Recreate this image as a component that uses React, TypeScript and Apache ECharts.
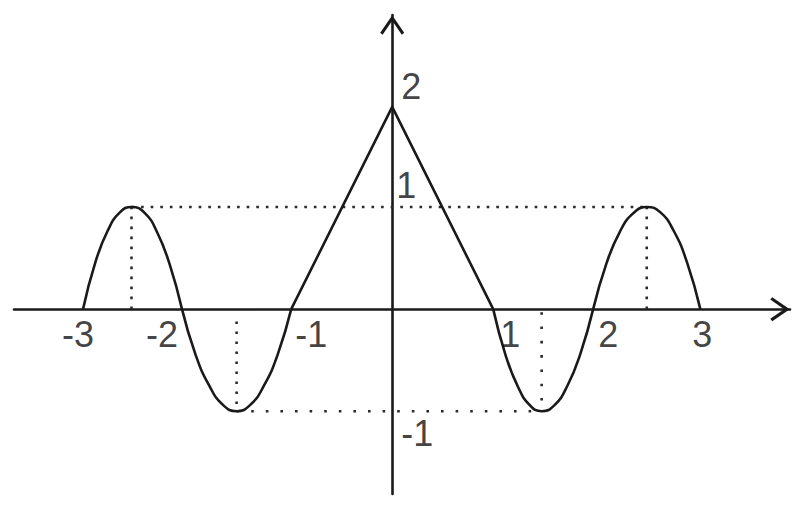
import React, { useEffect, useRef } from "react";
import * as echarts from "echarts";

// Curve pieces (x in axis units, y in axis units)
const xHumpA = [-3, -2.88, -2.76, -2.64, -2.53, -2.4, -2.28, -2.16, -2.04];
const yHumpA = [0, 0.46, 0.77, 0.95, 1, 0.94, 0.75, 0.44, 0];
const xHumpB = [-2.04, -1.91, -1.775, -1.64, -1.51, -1.38, -1.245, -1.11, -0.98];
const yHumpB = [0, -0.44, -0.75, -0.94, -1, -0.94, -0.75, -0.44, 0];
const xPeak = [-0.98, 0, 0.98];
const yPeak = [0, 1.98, 0];
const xHumpC = [0.98, 1.1, 1.22, 1.335, 1.45, 1.575, 1.7, 1.825, 1.95];
const yHumpC = [0, -0.45, -0.76, -0.94, -1, -0.94, -0.75, -0.44, 0];
const xHumpD = [1.95, 2.08, 2.21, 2.34, 2.47, 2.6, 2.73, 2.86, 2.99];
const yHumpD = [0, 0.45, 0.76, 0.94, 1, 0.95, 0.77, 0.46, 0];

// Dotted guide lines
const guideTopX = [-2.53, 2.47];
const guideTopY = [1, 1];
const guideBottomX = [-1.51, 1.45];
const guideBottomY = [-1, -1];
const dropAX = [-2.53, -2.53];
const dropAY = [0, 1];
const dropBX = [-1.51, -1.51];
const dropBY = [-0.12, -1];
const dropCX = [1.45, 1.45];
const dropCY = [-0.03, -1];
const dropDX = [2.47, 2.47];
const dropDY = [0, 1];

// Tick labels
const xTicks = [-3, -2, -1, 1, 2, 3];
const yTicks = [-1, 1, 2];

// Axis extents
const xMin = -3.67;
const xMax = 3.86;
const yMin = -1.81;
const yMax = 2.88;

// label nudges (px) — style only
const xLabelShift: Record<string, [number, number]> = {
  "-3": [-5, 25], "-2": [-24, 25], "-1": [22, 25], "1": [15, 25], "2": [10, 25], "3": [1, 25],
};
const yLabelShift: Record<string, [number, number]> = { "2": [19, -18], "1": [14, -22], "-1": [25, 22] };

const pairs = (xs: number[], ys: number[]) => xs.map((x, i) => [x, ys[i]]);

const FONT = "'Liberation Sans', Arial, sans-serif";
const INK = "#1a1a1a";
const ARROW = "path://M12,0 L24,17.5 L21.6,19.5 L12,5.6 L2.4,19.5 L0,17.5 Z";

export default function App() {
  const ref = useRef<HTMLDivElement>(null);

  useEffect(() => {
    if (!ref.current) return;
    const chart = echarts.init(ref.current, undefined, { renderer: "svg" });

    const dotted = (xs: number[], ys: number[], gap: number) => ({
      type: "line",
      data: pairs(xs, ys),
      symbol: "none",
      silent: true,
      lineStyle: { color: "#2a2a2a", width: 2.6, type: [2.6, gap], cap: "butt" },
      z: 1,
    });

    const curve = (xs: number[], ys: number[], smooth: boolean | number) => ({
      type: "line",
      data: pairs(xs, ys),
      symbol: "none",
      smooth,
      silent: true,
      lineStyle: { color: INK, width: 2.6, join: "round" },
      z: 3,
    });

    const labelStyle = {
      show: true,
      position: "inside",
      fontSize: 36,
      fontFamily: FONT,
      color: "#111",
      textBorderWidth: 0,
    };

    const xLabelData = xTicks.map((v) => ({
      value: [v, 0],
      name: String(v),
      label: { offset: xLabelShift[String(v)] },
    }));
    const yLabelData = yTicks.map((v) => ({
      value: [0, v],
      name: String(v),
      label: { offset: yLabelShift[String(v)] },
    }));

    const axisCommon = {
      type: "value",
      axisTick: { show: false },
      splitLine: { show: false },
      axisLabel: { show: false },
    };
    const axisLine = {
      onZero: true,
      symbol: ["none", ARROW],
      symbolSize: [24, 20],
      symbolOffset: [0, -10],
      lineStyle: { color: INK, width: 2.6 },
    };

    chart.setOption({
      animation: false,
      backgroundColor: "#ffffff",
      grid: { left: 14, right: 20, top: 15, bottom: 21, containLabel: false, outerBoundsMode: "none" },
      xAxis: { ...axisCommon, min: xMin, max: xMax, axisLine },
      yAxis: { ...axisCommon, min: yMin, max: yMax, axisLine },
      series: [
        dotted(guideTopX, guideTopY, 7),
        dotted(guideBottomX, guideBottomY, 12),
        dotted(dropAX, dropAY, 7.4),
        dotted(dropBX, dropBY, 7.4),
        dotted(dropCX, dropCY, 11.7),
        dotted(dropDX, dropDY, 7.4),
        curve(xHumpA, yHumpA, 0.5),
        curve(xHumpB, yHumpB, 0.5),
        curve(xPeak, yPeak, false),
        curve(xHumpC, yHumpC, 0.5),
        curve(xHumpD, yHumpD, 0.5),
        {
          type: "scatter",
          data: xLabelData,
          symbolSize: 0,
          silent: true,
          clip: false,
          label: { ...labelStyle, formatter: (p: any) => p.name },
          z: 5,
        },
        {
          type: "scatter",
          data: yLabelData,
          symbolSize: 0,
          silent: true,
          clip: false,
          label: { ...labelStyle, formatter: (p: any) => p.name },
          z: 5,
        },
      ],
    });

    return () => chart.dispose();
  }, []);

  return (
    <div
      ref={ref}
      style={{ position: "fixed", left: 0, top: 0, width: 810, height: 515, background: "#fff" }}
    />
  );
}
